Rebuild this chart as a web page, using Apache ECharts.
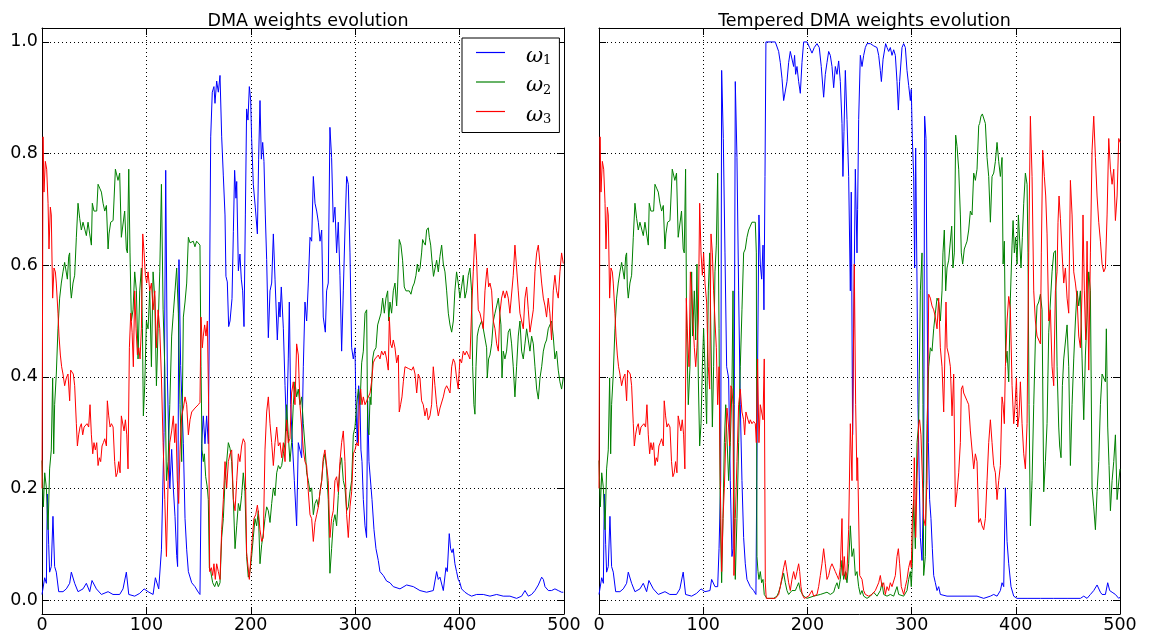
<!DOCTYPE html>
<html>
<head>
<meta charset="utf-8">
<script src="https://cdn.jsdelivr.net/npm/echarts@6/dist/echarts.min.js"></script>
<style>
html, body { margin: 0; padding: 0; background: #fff; }
#chart { width: 1150px; height: 639px; }
</style>
</head>
<body>
<div id="chart"></div>
<script>
// tick labels
const xTicks = [0, 100, 200, 300, 400, 500];
const yTicks = [0, 0.2, 0.4, 0.6, 0.8, 1.0];
const seriesNames = ['ω1', 'ω2', 'ω3'];

// first ~82 steps are the same in both panels
const earlyW1 = [[0,0.01],[2.6,0.04],[4.2,0.03],[5.1,0.19],[6.4,0.10],[7.3,0.05],[8.9,0.06],[10.5,0.15],[12.1,0.06],[13.7,0.05],[16,0.015],[20.1,0.015],[23.3,0.02],[26.5,0.03],[28.1,0.05],[31.3,0.03],[34.5,0.015],[39.3,0.02],[42.5,0.03],[45.7,0.015],[47.9,0.035],[52.1,0.02],[56.9,0.01],[63.3,0.015],[68,0.01],[74.4,0.01],[77.6,0.02],[80.8,0.05]];
const earlyW2 = [[0,0.25],[1.3,0.167],[2.6,0.228],[4.2,0.201],[5.8,0.126],[7.3,0.235],[8.9,0.269],[10.2,0.398],[11.2,0.262],[12.1,0.35],[13.7,0.405],[15.3,0.486],[16.9,0.541],[18.5,0.568],[20.1,0.588],[21.7,0.605],[23.3,0.602],[24.3,0.575],[25.6,0.616],[26.5,0.622],[27.2,0.561],[28.1,0.541],[29.7,0.568],[31.3,0.582],[32.9,0.65],[34.5,0.711],[36.1,0.684],[37.7,0.663],[39.3,0.677],[40.9,0.677],[42.5,0.653],[44.1,0.677],[45.7,0.656],[47.3,0.636],[48.2,0.711],[49.8,0.697],[51.1,0.70],[52.4,0.697],[53.7,0.745],[55.3,0.738],[56.9,0.731],[58.5,0.711],[60.1,0.697],[61.7,0.707],[63.3,0.629],[64.2,0.656],[65.8,0.677],[68.1,0.68],[70.3,0.772],[71.9,0.769],[72.8,0.752],[74.4,0.765],[76,0.65],[77.6,0.65],[79.2,0.697],[80.8,0.629],[81.8,0.622]];
const earlyW3 = [[0,0.2],[1,0.83],[1.9,0.731],[3.2,0.786],[4.5,0.772],[5.8,0.711],[6.7,0.629],[8,0.704],[8.9,0.69],[10.2,0.541],[11.5,0.595],[12.8,0.588],[13.7,0.568],[15.3,0.514],[16.3,0.473],[17.6,0.439],[18.8,0.418],[20.1,0.405],[21.7,0.384],[23.3,0.398],[24.9,0.405],[26.5,0.357],[27.5,0.412],[28.8,0.415],[30,0.405],[31.3,0.384],[32.9,0.316],[33.9,0.276],[35.1,0.296],[36.4,0.31],[37.7,0.316],[39,0.296],[40.3,0.31],[41.5,0.313],[43.1,0.316],[44.7,0.31],[46,0.35],[47.3,0.296],[48.6,0.262],[49.8,0.282],[51.1,0.269],[52.4,0.282],[53.7,0.241],[54.9,0.255],[56.2,0.248],[57.5,0.276],[58.8,0.282],[60.1,0.289],[61.7,0.276],[62.6,0.357],[63.9,0.33],[65.2,0.31],[66.5,0.316],[68.1,0.31],[69.6,0.248],[70.9,0.221],[72.2,0.228],[73.5,0.248],[74.8,0.228],[76,0.33],[77.3,0.33],[78.6,0.303],[79.9,0.323],[81.2,0.296],[82.4,0.235]];

// DMA (left panel), after step 82
const dmaW1Tail = [[83.1,0.01],[88.8,0.007],[93.6,0.012],[97.8,0.02],[101.6,0.015],[106.4,0.01],[108.6,0.04],[111.8,0.02],[114.4,0.09],[116.9,0.3],[118.5,0.77],[120.1,0.4],[122.4,0.2],[124.2,0.27],[125.8,0.2],[127.4,0.15],[129,0.08],[129.9,0.06],[131.2,0.61],[132.8,0.42],[135.4,0.28],[137,0.146],[138.6,0.09],[140.2,0.051],[143.4,0.031],[146.5,0.024],[149.7,0.014],[151.3,0.01],[152.9,0.28],[154.5,0.33],[156.1,0.28],[157.7,0.33],[159.3,0.28],[160.3,0.5],[161.6,0.83],[163.1,0.91],[164.7,0.92],[165.7,0.89],[167.3,0.93],[168.9,0.91],[170.5,0.94],[172.1,0.83],[173.7,0.76],[175.3,0.69],[176.2,0.58],[177.5,0.57],[178.8,0.49],[180.1,0.5],[182,0.54],[183.3,0.66],[184.5,0.77],[185.8,0.72],[186.5,0.75],[188.1,0.59],[189.6,0.62],[190.9,0.575],[192.2,0.554],[193.5,0.49],[194.8,0.69],[196,0.88],[197.3,0.86],[198.6,0.92],[199.9,0.895],[200.8,0.827],[202.4,0.745],[204.3,0.704],[206.3,0.656],[207.5,0.79],[208.8,0.895],[210.1,0.79],[211.4,0.82],[212.6,0.786],[213.9,0.69],[215.2,0.61],[216.8,0.47],[218.4,0.554],[220,0.568],[221.6,0.656],[223.2,0.575],[225.4,0.466],[227,0.534],[228,0.507],[229.2,0.561],[231.2,0.486],[232.8,0.384],[234.3,0.303],[235.9,0.432],[236.9,0.534],[238.2,0.35],[239.8,0.282],[241.7,0.214],[243.9,0.133],[245.5,0.282],[247.1,0.269],[248.7,0.255],[250.3,0.418],[251.9,0.534],[253.5,0.5],[255.1,0.568],[256.7,0.65],[258.3,0.643],[259.9,0.759],[261.5,0.711],[263.1,0.697],[264.7,0.677],[266.3,0.643],[267.9,0.663],[269.4,0.507],[271.4,0.48],[272.6,0.554],[274.2,0.568],[275.8,0.847],[277.4,0.793],[279,0.677],[280.6,0.704],[282.2,0.622],[283.8,0.677],[285.4,0.582],[287,0.446],[288.6,0.554],[290.2,0.663],[291.8,0.759],[293.4,0.745],[295,0.622],[296.6,0.452],[298.2,0.432],[299.8,0.452],[300.7,0.35],[302,0.282],[303.3,0.384],[304.6,0.35],[305.5,0.269],[306.5,0.248],[307.8,0.18],[309.4,0.133],[310.9,0.112],[311.9,0.357],[313.2,0.248],[314.8,0.248],[316.1,0.18],[318,0.126],[319.9,0.092],[322.1,0.071],[323.7,0.051],[326.9,0.044],[330.1,0.034],[333.3,0.031],[336.5,0.024],[342.9,0.02],[349.3,0.027],[355.7,0.024],[362,0.017],[368.4,0.014],[374.8,0.017],[378,0.051],[379.6,0.037],[381.2,0.041],[384.4,0.017],[386.9,0.058],[388.2,0.051],[390.1,0.119],[391.4,0.092],[392.7,0.085],[393.9,0.092],[395.5,0.065],[397.1,0.051],[398.7,0.037],[400.3,0.031],[401.9,0.02],[405.1,0.014],[408.3,0.01],[411.5,0.007],[416.3,0.01],[422.7,0.01],[429.1,0.007],[435.5,0.01],[441.8,0.007],[448.2,0.007],[454.6,0.003],[459.4,0.007],[462.6,0.017],[465.8,0.007],[469,0.01],[472.2,0.017],[475.4,0.027],[478.6,0.041],[480.2,0.037],[481.8,0.024],[485,0.017],[488.1,0.017],[491.3,0.02],[494.5,0.017],[497.7,0.014],[499.3,0.014]];
const dmaW2Tail = [[83.1,0.772],[84.3,0.622],[85.6,0.50],[87.2,0.52],[88.8,0.588],[90.4,0.554],[92,0.432],[93.6,0.554],[95.2,0.595],[96.2,0.486],[97.1,0.33],[98.4,0.384],[100,0.50],[101.6,0.486],[103.2,0.554],[104.8,0.418],[106.4,0.588],[108,0.541],[109.6,0.384],[111.2,0.486],[112.8,0.588],[114.4,0.745],[116,0.52],[117.6,0.418],[119.2,0.214],[120.8,0.248],[122.4,0.35],[124.2,0.473],[125.8,0.514],[127.4,0.554],[129,0.595],[130.6,0.514],[132.2,0.35],[133.8,0.248],[135.4,0.507],[137,0.534],[138.6,0.568],[140.2,0.65],[141.8,0.64],[143.4,0.64],[144.9,0.643],[146.5,0.633],[148.1,0.643],[149.7,0.64],[151.3,0.636],[152.3,0.418],[153.3,0.269],[154.5,0.248],[155.5,0.262],[156.8,0.221],[158.4,0.201],[159.3,0.18],[160.3,0.058],[161.6,0.051],[163.5,0.031],[165.4,0.024],[167.3,0.034],[168.9,0.024],[170.5,0.031],[172.1,0.112],[173.7,0.146],[175.3,0.214],[176.9,0.214],[178.5,0.282],[180.1,0.272],[181.7,0.248],[183.3,0.18],[184.9,0.092],[186.5,0.133],[188.1,0.173],[189.6,0.16],[191.2,0.187],[192.8,0.228],[194.4,0.194],[196,0.078],[197.6,0.041],[199.2,0.051],[200.8,0.078],[202.4,0.112],[204,0.146],[205.6,0.133],[207.2,0.16],[208.8,0.065],[210.4,0.099],[212,0.119],[213.6,0.146],[215.2,0.167],[216.8,0.16],[218.4,0.139],[220,0.173],[221.6,0.201],[223.2,0.187],[224.8,0.228],[226.4,0.241],[228,0.235],[229.6,0.241],[231.2,0.262],[232.8,0.282],[234.3,0.35],[235.9,0.296],[237.5,0.248],[239.1,0.282],[240.7,0.35],[242.3,0.391],[243.9,0.364],[245.5,0.378],[247.1,0.35],[248.7,0.364],[250.3,0.316],[251.9,0.276],[253.5,0.228],[255.1,0.214],[256.7,0.194],[258.3,0.201],[259.9,0.153],[261.5,0.173],[263.1,0.18],[264.7,0.167],[266.3,0.194],[267.9,0.214],[269.4,0.248],[271,0.262],[272.6,0.235],[274.2,0.18],[275.8,0.048],[277.4,0.092],[279,0.139],[280.6,0.153],[282.2,0.133],[283.8,0.187],[285.4,0.241],[287,0.255],[288.6,0.214],[290.2,0.201],[291.8,0.16],[293.4,0.167],[295,0.194],[296.6,0.214],[298.2,0.296],[299.8,0.31],[301.4,0.35],[303,0.378],[304.6,0.35],[306.2,0.425],[307.8,0.446],[309.4,0.514],[311,0.52],[311.9,0.31],[313.2,0.296],[314.2,0.364],[315.1,0.35],[316.7,0.432],[318,0.446],[319.9,0.452],[321.5,0.493],[323.1,0.493],[324.7,0.514],[326.3,0.541],[327.9,0.514],[329.5,0.541],[331.1,0.554],[332.1,0.50],[333.3,0.534],[334.9,0.514],[336.5,0.554],[338.1,0.568],[339.7,0.527],[340.6,0.561],[342.2,0.646],[343.8,0.636],[345.4,0.609],[347,0.561],[348.6,0.554],[350.2,0.551],[351.8,0.554],[353.4,0.548],[355,0.561],[356.6,0.568],[358.2,0.582],[359.5,0.602],[360.8,0.588],[362.1,0.595],[363.6,0.622],[364.6,0.646],[365.9,0.64],[367.2,0.636],[368.4,0.663],[370,0.667],[371,0.65],[372.3,0.636],[373.5,0.609],[375,0.58],[376.4,0.582],[378,0.609],[379.6,0.588],[381.2,0.616],[382.8,0.636],[384.4,0.602],[386,0.588],[387.6,0.554],[389.2,0.514],[390.8,0.493],[392.4,0.48],[394,0.50],[395.5,0.554],[397.1,0.588],[398.7,0.568],[400.3,0.541],[401.9,0.561],[403.5,0.582],[405.1,0.541],[406.7,0.554],[408.3,0.582],[409.9,0.595],[411.5,0.554],[412.5,0.418],[413.7,0.35],[414.7,0.333],[415.7,0.418],[416.9,0.473],[418.2,0.486],[419.5,0.493],[421.1,0.50],[422.7,0.486],[424.3,0.486],[425.9,0.452],[426.5,0.398],[427.8,0.432],[429.1,0.439],[430.7,0.459],[432.3,0.50],[433.9,0.514],[435.5,0.527],[437.1,0.541],[438.6,0.541],[439.6,0.493],[440.6,0.398],[441.8,0.446],[443.4,0.432],[445,0.446],[446.6,0.48],[448.2,0.486],[449.8,0.459],[451.4,0.418],[453,0.364],[454.6,0.418],[456.2,0.473],[457.8,0.50],[459.4,0.446],[461,0.432],[462.6,0.459],[464.2,0.486],[465.8,0.466],[467.4,0.446],[469,0.473],[470.6,0.459],[472.2,0.418],[473.8,0.378],[475.4,0.36],[477,0.398],[478.6,0.418],[480.2,0.446],[481.8,0.459],[483.3,0.466],[484.9,0.486],[486.5,0.493],[488.1,0.50],[489.7,0.473],[491.3,0.432],[492.9,0.446],[494.5,0.412],[496.1,0.391],[497.7,0.378],[499.3,0.398]];
const dmaW3Tail = [[83.7,0.452],[85,0.514],[86.3,0.48],[87.5,0.418],[88.8,0.554],[90.1,0.486],[91.4,0.439],[92.7,0.452],[93.9,0.432],[95.2,0.486],[96.5,0.656],[97.8,0.622],[99,0.582],[100.3,0.568],[101.6,0.588],[103.2,0.554],[104.8,0.568],[106.4,0.52],[108,0.554],[109.6,0.452],[111.2,0.52],[112.8,0.486],[114.4,0.398],[116,0.282],[117.6,0.18],[119.2,0.078],[120.8,0.214],[122.4,0.282],[124.2,0.303],[125.8,0.33],[127.1,0.282],[128.3,0.316],[129.6,0.214],[130.9,0.173],[132.2,0.269],[133.8,0.33],[135.4,0.344],[137,0.364],[138.6,0.35],[140.2,0.296],[141.8,0.323],[143.4,0.337],[144.9,0.337],[146.5,0.344],[148.1,0.344],[149.7,0.35],[151.3,0.354],[152.3,0.507],[153.6,0.452],[154.5,0.473],[155.8,0.493],[157.1,0.473],[158.4,0.50],[159.6,0.35],[160.6,0.051],[162.2,0.058],[163.5,0.044],[164.7,0.065],[166,0.037],[167.3,0.065],[168.9,0.051],[170.5,0.037],[172.1,0.126],[173.7,0.18],[175.3,0.248],[176.9,0.201],[178.5,0.248],[180.1,0.262],[181.7,0.269],[183.3,0.18],[184.9,0.16],[186.5,0.214],[188.1,0.262],[189.6,0.248],[191.2,0.276],[192.8,0.289],[194.4,0.282],[196,0.085],[197.6,0.085],[198.6,0.037],[199.9,0.071],[201.5,0.112],[203,0.146],[204.7,0.153],[206.3,0.17],[207.5,0.153],[208.8,0.126],[210.4,0.105],[212,0.112],[213.6,0.269],[215.2,0.337],[216.8,0.364],[218.4,0.316],[220,0.282],[221.6,0.241],[223.2,0.282],[224.8,0.31],[226.4,0.276],[228,0.282],[229.6,0.255],[231.2,0.282],[232.8,0.248],[234.3,0.323],[235.9,0.282],[237.5,0.289],[239.1,0.371],[240.7,0.391],[242.3,0.35],[243.9,0.459],[245.5,0.439],[247.1,0.35],[248.7,0.35],[250.3,0.269],[251.9,0.248],[253.5,0.241],[255.1,0.194],[256.7,0.153],[258.3,0.146],[259.9,0.105],[261.5,0.139],[263.1,0.153],[264.7,0.167],[266.3,0.194],[267.9,0.214],[269.4,0.255],[271,0.269],[272.6,0.241],[274.2,0.214],[275.8,0.112],[277.4,0.146],[279,0.16],[280.6,0.214],[282.2,0.221],[283.8,0.194],[285.4,0.248],[287,0.282],[288.6,0.303],[290.2,0.248],[291.8,0.153],[293.4,0.112],[295,0.167],[296.6,0.194],[298.2,0.262],[299.8,0.269],[301.4,0.282],[303,0.276],[303.9,0.35],[305.2,0.378],[306.5,0.35],[307.8,0.364],[309.4,0.35],[311,0.357],[312.6,0.364],[314.2,0.371],[315.7,0.391],[317.3,0.425],[318.9,0.432],[320.5,0.432],[322.1,0.439],[323.7,0.432],[325.3,0.446],[326.9,0.439],[328.5,0.446],[330.1,0.432],[331.7,0.412],[332.7,0.507],[333.9,0.459],[335.2,0.452],[336.5,0.466],[338.1,0.452],[339.7,0.425],[341.3,0.439],[342.2,0.337],[343.5,0.35],[344.8,0.364],[346.1,0.391],[347.7,0.418],[349.3,0.418],[350.9,0.415],[352.5,0.418],[354.1,0.412],[355.7,0.418],[357.3,0.405],[358.9,0.371],[360.4,0.405],[362,0.398],[363.6,0.357],[365.2,0.35],[366.8,0.33],[368.4,0.344],[370,0.323],[371.6,0.33],[373.2,0.35],[374.8,0.418],[376.4,0.384],[378,0.35],[379.6,0.33],[381.2,0.344],[382.8,0.344],[384.4,0.364],[386,0.378],[387.6,0.384],[389.2,0.378],[390.8,0.371],[392.4,0.418],[394,0.432],[395.5,0.425],[397.1,0.398],[398.7,0.378],[400.3,0.432],[401.9,0.425],[403.5,0.446],[405.1,0.439],[406.7,0.446],[408.3,0.439],[409.9,0.432],[411.5,0.52],[413.1,0.588],[414.7,0.656],[416.3,0.609],[417.9,0.52],[419.5,0.514],[421.1,0.50],[422.7,0.486],[424.3,0.554],[425.9,0.588],[426.5,0.595],[427.8,0.561],[429.1,0.568],[430.7,0.554],[432.3,0.50],[433.9,0.486],[435.5,0.459],[437.1,0.446],[438.6,0.514],[440.2,0.541],[441.8,0.554],[443.4,0.541],[445,0.554],[446.6,0.541],[448.2,0.514],[449.8,0.514],[451.4,0.582],[453,0.636],[454.6,0.595],[456.2,0.554],[457.8,0.514],[459.4,0.50],[461,0.486],[462.6,0.541],[464.2,0.561],[465.8,0.52],[467.4,0.48],[469,0.50],[470.6,0.52],[472.2,0.588],[473.8,0.622],[475.4,0.636],[477,0.602],[478.6,0.568],[480.2,0.541],[481.8,0.527],[483.3,0.507],[484.9,0.541],[486.5,0.514],[488.1,0.466],[489.7,0.554],[491.3,0.582],[492.9,0.554],[494.5,0.541],[496.1,0.588],[497.7,0.622],[499.3,0.603]];

// Tempered DMA (right panel), after step 82
const tdmaW1Tail = [[83.1,0.01],[88.9,0.007],[93.7,0.012],[97.9,0.02],[101.7,0.015],[106.5,0.017],[108.1,0.037],[111.3,0.024],[113.9,0.024],[115.2,0.092],[116.8,0.214],[117.7,0.949],[119.3,0.827],[120.9,0.622],[122.5,0.418],[124.4,0.398],[126,0.214],[127.6,0.078],[128.6,0.092],[129.8,0.35],[130.8,0.929],[132.4,0.793],[134,0.554],[135.6,0.35],[137.2,0.214],[138.8,0.112],[140.4,0.065],[142,0.037],[145.2,0.024],[148.4,0.017],[150.6,0.01],[152.2,0.418],[153.5,0.69],[154.8,0.602],[156.1,0.575],[157.4,0.636],[158.3,0.52],[159.3,0.759],[160.2,1.0],[166,1.0],[169.2,1.0],[170.8,0.997],[172.4,0.983],[174,0.963],[175.6,0.935],[177.2,0.895],[178.8,0.895],[180.4,0.929],[182,0.963],[183.6,0.983],[185.2,0.98],[186.8,0.956],[187.7,0.976],[188.7,0.942],[190,0.956],[191.6,0.929],[193.2,0.908],[194.8,0.963],[196.4,1.0],[199.6,1.0],[202.1,0.99],[204.4,0.98],[206.6,0.99],[209.2,0.997],[211.4,0.99],[213.3,0.956],[215.6,0.901],[217.2,0.942],[218.8,0.963],[220.4,0.983],[222,0.976],[223.6,0.956],[225.2,0.918],[226.8,0.956],[228.4,0.942],[230,0.966],[231.6,0.929],[233.2,0.854],[234.1,0.759],[235.1,0.84],[236.4,0.949],[238,0.861],[239.6,0.759],[241.2,0.554],[242.1,0.731],[243.4,0.296],[244.4,0.486],[246,0.772],[247.6,0.622],[248.2,0.7],[249.2,0.861],[250.8,0.976],[252.4,0.956],[254,0.976],[255.6,0.99],[257.2,0.997],[260.4,0.997],[263.6,0.993],[266.8,0.99],[268.4,0.976],[270,0.949],[271,0.929],[272.6,0.969],[273.8,0.966],[275.1,0.997],[276.4,0.99],[278,0.983],[279.6,0.99],[281.2,0.976],[282.8,0.986],[284.4,0.976],[286,0.929],[287.3,0.878],[288.5,0.929],[290.8,0.99],[292.4,0.997],[294,0.99],[295.6,0.949],[297.2,0.922],[298.8,0.895],[299.7,0.915],[300.7,0.827],[302,0.759],[302.9,0.595],[303.9,0.81],[305.2,0.568],[306.1,0.35],[307.4,0.214],[308.4,0.112],[310,0.071],[311.6,0.214],[312.5,0.867],[313.8,0.827],[314.8,0.554],[316.1,0.282],[317.3,0.18],[318.6,0.146],[319.9,0.092],[321.2,0.044],[322.8,0.031],[324.4,0.017],[326,0.024],[327.6,0.01],[334,0.007],[343.6,0.007],[353.2,0.007],[362.8,0.007],[369.2,0.003],[375.6,0.007],[378.8,0.01],[382,0.007],[385.2,0.017],[386.8,0.031],[388.4,0.024],[390,0.201],[391.6,0.105],[393.2,0.065],[394.2,0.065],[395.4,0.024],[398,0.007],[401.2,0.003],[410.8,0.003],[423.6,0.003],[436.4,0.003],[449.2,0.003],[462,0.003],[465.2,0.007],[468.4,0.003],[471.6,0.01],[474.8,0.017],[478,0.027],[479.6,0.024],[481.2,0.014],[482.8,0.01],[486,0.01],[488.2,0.031],[490.1,0.017],[492.4,0.014],[495.6,0.01],[498.8,0.003],[500,0.005]];
const tdmaW2Tail = [[83.1,0.772],[84.1,0.486],[85.7,0.35],[87.3,0.418],[88.9,0.588],[89.9,0.473],[91.5,0.554],[92.8,0.466],[94,0.602],[95.3,0.398],[96.6,0.276],[97.9,0.316],[99.2,0.418],[100.4,0.486],[101.7,0.418],[103.3,0.316],[104.9,0.554],[106.2,0.622],[107.5,0.466],[108.8,0.31],[110,0.418],[111.3,0.588],[112.6,0.636],[113.9,0.765],[115.2,0.486],[116.4,0.146],[117.7,0.031],[119,0.146],[120.3,0.282],[121.6,0.35],[122.8,0.35],[124.4,0.214],[126,0.282],[127.6,0.384],[128.6,0.554],[129.8,0.146],[130.8,0.037],[132.4,0.146],[134,0.282],[135.6,0.418],[137.2,0.52],[138.8,0.622],[140.4,0.629],[142,0.65],[143.6,0.663],[145.2,0.67],[146.8,0.677],[148.4,0.68],[150,0.677],[151,0.622],[151.6,0.078],[152.6,0.051],[153.5,0.037],[154.8,0.051],[156.1,0.031],[157.4,0.037],[158.6,0.01],[161.2,0.003],[167.6,0.003],[170.8,0.007],[172.4,0.014],[174,0.024],[175.6,0.037],[177.2,0.048],[178.8,0.031],[180.4,0.017],[182,0.01],[185.2,0.017],[188.4,0.017],[190,0.024],[191.6,0.031],[193.2,0.017],[196.4,0.007],[199.6,0.003],[206,0.007],[212.4,0.01],[218.8,0.014],[222,0.01],[225.2,0.014],[226.8,0.024],[228.4,0.031],[230,0.02],[231.6,0.037],[233.2,0.071],[234.8,0.037],[236.4,0.051],[238,0.031],[239.6,0.065],[241.2,0.133],[242.8,0.078],[244.4,0.092],[246,0.044],[247.6,0.051],[249.2,0.024],[250.8,0.01],[252.4,0.017],[254,0.007],[257.2,0.003],[260.4,0.007],[263.6,0.014],[266.8,0.007],[270,0.017],[271.6,0.031],[273.2,0.01],[276.4,0.007],[279.6,0.01],[282.8,0.007],[286,0.024],[287.6,0.01],[289.2,0.007],[292.4,0.007],[295.6,0.017],[297.2,0.037],[298.8,0.051],[299.7,0.024],[300.7,0.065],[302,0.18],[303.6,0.092],[305.2,0.282],[306.8,0.316],[308.4,0.554],[310,0.622],[310.9,0.35],[311.6,0.044],[313.2,0.078],[314.8,0.316],[316.4,0.418],[318,0.452],[319.6,0.446],[321.2,0.486],[322.8,0.514],[324.4,0.541],[326,0.534],[327.6,0.50],[329.2,0.554],[330.1,0.622],[331.4,0.663],[332.7,0.554],[334,0.595],[335.6,0.609],[337.2,0.609],[338.5,0.67],[339.7,0.595],[341,0.622],[342.3,0.833],[343.6,0.813],[345.2,0.772],[346.8,0.69],[347.7,0.622],[349,0.602],[350.6,0.629],[351.9,0.636],[353.2,0.643],[354.8,0.663],[356.4,0.697],[358,0.69],[359.6,0.765],[361.2,0.752],[362.8,0.772],[364.4,0.85],[365.3,0.854],[366.6,0.867],[367.9,0.871],[369.2,0.874],[370.8,0.854],[372.4,0.793],[374,0.759],[375.6,0.677],[377.2,0.759],[378.8,0.765],[380.4,0.786],[382,0.82],[383.6,0.786],[385.2,0.759],[386.8,0.793],[387.8,0.602],[389,0.643],[390.3,0.425],[391.6,0.446],[393.2,0.391],[394.8,0.541],[396.4,0.636],[397.4,0.68],[398.6,0.622],[399.9,0.65],[401.2,0.602],[402.5,0.69],[403.8,0.69],[405,0.595],[406.3,0.65],[407.6,0.711],[409.2,0.765],[410.8,0.745],[411.7,0.622],[412.7,0.35],[414,0.133],[415.6,0.214],[417.2,0.35],[418.8,0.466],[420.4,0.527],[422,0.534],[423.6,0.548],[425.2,0.52],[426.8,0.194],[428.4,0.248],[430,0.316],[431.6,0.48],[433.2,0.48],[434.8,0.588],[436.4,0.622],[438,0.626],[439.6,0.418],[441.2,0.31],[442.1,0.276],[443.4,0.255],[444.7,0.384],[446,0.432],[447.6,0.432],[449.2,0.493],[450.8,0.418],[452.4,0.241],[454,0.35],[455.6,0.432],[457.2,0.50],[458.8,0.554],[460.4,0.527],[462,0.554],[463.6,0.432],[465.2,0.323],[466.8,0.439],[468.4,0.507],[470,0.588],[471.6,0.554],[473.2,0.201],[474.8,0.167],[476.4,0.126],[478,0.194],[479.6,0.248],[481.2,0.35],[482.8,0.405],[484.4,0.398],[486,0.391],[486.9,0.486],[488.2,0.31],[489.5,0.241],[490.8,0.16],[492.4,0.214],[494,0.248],[495.6,0.296],[497.2,0.18],[498.8,0.18],[500,0.235]];
const tdmaW3Tail = [[83.8,0.541],[85.1,0.466],[86.4,0.418],[87.7,0.588],[88.9,0.554],[90.2,0.50],[91.5,0.452],[92.8,0.418],[94,0.452],[95.3,0.50],[96.6,0.711],[97.9,0.622],[99.2,0.582],[100.4,0.622],[101.7,0.568],[103.3,0.534],[104.9,0.418],[106.2,0.378],[107.5,0.656],[108.8,0.622],[110,0.554],[111.3,0.50],[112.6,0.452],[113.9,0.35],[115.2,0.418],[116.4,0.214],[117.7,0.051],[119,0.146],[120.3,0.201],[121.6,0.282],[122.8,0.344],[124.4,0.31],[125.4,0.276],[126.6,0.384],[127.6,0.378],[128.6,0.35],[129.5,0.044],[130.8,0.146],[132.4,0.248],[134,0.35],[135.6,0.378],[137.2,0.337],[138.8,0.323],[139.8,0.296],[141,0.337],[142,0.33],[143,0.323],[144.2,0.316],[145.2,0.323],[146.8,0.316],[148.4,0.32],[150,0.316],[151,0.282],[152.2,0.432],[153.5,0.282],[154.8,0.35],[156.1,0.337],[157.4,0.323],[158.6,0.432],[159.6,0.031],[160.5,0.003],[164.4,0.003],[169.2,0.003],[172.4,0.01],[174,0.024],[175.6,0.041],[177.2,0.058],[178.8,0.071],[180.4,0.051],[182,0.031],[183.6,0.017],[185.2,0.037],[186.8,0.051],[188.4,0.037],[190,0.051],[191.6,0.065],[192.6,0.051],[193.8,0.024],[195.1,0.01],[197,0.003],[201.2,0.007],[204.4,0.017],[206,0.007],[209.2,0.01],[210.8,0.024],[212.4,0.044],[214,0.065],[215.6,0.092],[217.2,0.065],[218.8,0.037],[220.4,0.044],[222,0.058],[223.6,0.065],[225.2,0.065],[226.8,0.051],[228.4,0.044],[230,0.037],[231.6,0.058],[233.2,0.146],[234.1,0.044],[235.4,0.078],[236.6,0.037],[238,0.051],[239.6,0.126],[241.2,0.316],[242.8,0.214],[243.7,0.364],[245,0.602],[246.3,0.35],[247.6,0.214],[248.2,0.255],[250.2,0.044],[252.4,0.037],[254,0.017],[255.6,0.01],[258.8,0.007],[262,0.01],[265.2,0.017],[268.4,0.031],[270,0.044],[271.6,0.024],[273.2,0.031],[274.8,0.01],[276.4,0.024],[278,0.017],[279.6,0.031],[281.2,0.024],[282.8,0.024],[284.4,0.044],[286,0.078],[287.3,0.092],[288.5,0.065],[290.1,0.024],[292.4,0.01],[294,0.024],[295.6,0.037],[297.2,0.058],[298.8,0.071],[299.7,0.058],[300.7,0.146],[302,0.18],[302.6,0.255],[303.9,0.112],[305.2,0.214],[306.8,0.316],[307.7,0.323],[309,0.296],[310.3,0.296],[311.6,0.146],[313.2,0.133],[314.8,0.214],[316.4,0.548],[318,0.541],[319.6,0.527],[321.2,0.52],[322.8,0.507],[324.4,0.486],[326,0.541],[327.6,0.452],[329.2,0.418],[330.8,0.337],[331.7,0.337],[333,0.534],[334,0.452],[335.6,0.439],[337.2,0.418],[338.8,0.33],[340.4,0.405],[342,0.167],[343.6,0.194],[345.2,0.228],[346.8,0.282],[347.7,0.378],[349,0.384],[350,0.371],[351.6,0.371],[353.2,0.357],[354.8,0.35],[356.4,0.303],[358,0.303],[359.6,0.235],[361.2,0.262],[362.8,0.248],[364.4,0.139],[366,0.146],[367.6,0.133],[369.2,0.126],[370.8,0.146],[372.4,0.214],[374,0.282],[375.6,0.323],[377.2,0.282],[378.8,0.241],[380.4,0.228],[382,0.18],[383.6,0.214],[385.2,0.241],[386.8,0.364],[387.8,0.35],[389,0.316],[390,0.418],[391.6,0.50],[393.2,0.544],[394.8,0.52],[396.4,0.384],[398,0.316],[399.3,0.35],[400.6,0.398],[401.8,0.31],[403.1,0.33],[404.4,0.391],[406,0.316],[407.6,0.262],[409.2,0.235],[410.8,0.316],[412.4,0.622],[414,0.867],[415.6,0.759],[417.2,0.554],[418.8,0.50],[420.4,0.473],[422,0.473],[423.6,0.459],[424.5,0.622],[425.8,0.806],[427.4,0.759],[428.7,0.724],[430,0.656],[431.6,0.50],[433.2,0.52],[434.8,0.418],[436.4,0.384],[438,0.554],[439.6,0.588],[440.5,0.677],[441.5,0.724],[442.8,0.684],[444.4,0.622],[446,0.568],[447.6,0.595],[449.2,0.541],[450.8,0.514],[452.4,0.752],[454,0.69],[455.6,0.588],[457.2,0.568],[458.8,0.541],[460.4,0.473],[462,0.452],[463.6,0.554],[464.5,0.69],[465.8,0.554],[467.1,0.466],[468.4,0.643],[470,0.412],[471.6,0.622],[473.2,0.806],[474.8,0.867],[476.4,0.793],[478,0.724],[479.6,0.677],[481.2,0.643],[482.8,0.602],[484.4,0.588],[486,0.595],[487.6,0.69],[489.2,0.827],[490.8,0.772],[492.4,0.745],[494,0.772],[495.6,0.68],[497.2,0.724],[498.8,0.827],[500,0.82]];

const dmaW1 = earlyW1.concat(dmaW1Tail);
const dmaW2 = earlyW2.concat(dmaW2Tail);
const dmaW3 = earlyW3.concat(dmaW3Tail);
const tdmaW1 = earlyW1.concat(tdmaW1Tail);
const tdmaW2 = earlyW2.concat(tdmaW2Tail);
const tdmaW3 = earlyW3.concat(tdmaW3Tail);

const colors = ['#0000ff', '#008000', '#ff0000'];
const font = 'DejaVu Sans';

var chart = echarts.init(document.getElementById('chart'));

function gridLine() {
    return { show: true, lineStyle: { color: '#000', width: 1, type: [1, 3] } };
}

function xAxes(gi) {
    var base = {
        type: 'value', gridIndex: gi, min: 0, max: 500, interval: 100,
        axisLine: { onZero: false, lineStyle: { color: '#000', width: 1 } },
        axisTick: { inside: true, length: 7, lineStyle: { color: '#000' } }
    };
    return [
        Object.assign({}, base, {
            position: 'bottom',
            axisLabel: { fontFamily: font, fontSize: 17.5, color: '#000', margin: 2 },
            splitLine: gridLine()
        }),
        Object.assign({}, base, {
            position: 'top',
            axisLabel: { show: false },
            splitLine: { show: false }
        })
    ];
}

function yAxes(gi, labels) {
    var base = {
        type: 'value', gridIndex: gi, min: -0.025, max: 1.025, splitNumber: 5,
        axisLine: { onZero: false, lineStyle: { color: '#000', width: 1 } },
        axisTick: { inside: true, length: 7, customValues: yTicks, lineStyle: { color: '#000' } }
    };
    return [
        Object.assign({}, base, {
            position: 'left',
            axisLabel: {
                show: labels, customValues: yTicks, fontFamily: font, fontSize: 17.5, color: '#000', margin: 4,
                formatter: function (v) { return v.toFixed(1); }
            },
            splitLine: gridLine()
        }),
        Object.assign({}, base, {
            position: 'right',
            axisLabel: { show: false },
            splitLine: { show: false }
        })
    ];
}

function makeSeries(gi, list) {
    return list.map(function (d, i) {
        return {
            name: seriesNames[i], type: 'line', data: d,
            xAxisIndex: gi * 2, yAxisIndex: gi * 2,
            symbol: 'none', showSymbol: false,
            lineStyle: { color: colors[i], width: 1 },
            itemStyle: { color: colors[i] },
            animation: false
        };
    });
}

chart.setOption({
    backgroundColor: '#fff',
    animation: false,
    title: [
        { text: 'DMA weights evolution', left: 303, top: 7, textAlign: 'center',
          textStyle: { fontFamily: font, fontSize: 17.5, fontWeight: 'normal', color: '#000' } },
        { text: 'Tempered DMA weights evolution', left: 859.5, top: 7, textAlign: 'center',
          textStyle: { fontFamily: font, fontSize: 17.5, fontWeight: 'normal', color: '#000' } }
    ],
    grid: [
        { left: 42, top: 28, width: 522, height: 586 },
        { left: 599, top: 28, width: 521, height: 586 }
    ],
    legend: {
        data: seriesNames,
        orient: 'vertical',
        left: 462, top: 38,
        padding: [8, 8, 6, 14],
        itemGap: 8,
        itemWidth: 29, itemHeight: 1.2,
        icon: 'rect',
        backgroundColor: '#fff',
        borderColor: '#000', borderWidth: 1, borderRadius: 0,
        selectedMode: false,
        formatter: function (name) { return '{w|ω}{s|' + name.slice(1) + '}'; },
        textStyle: {
            color: '#000',
            padding: [8, 0, 0, 0],
            rich: {
                w: { fontFamily: 'DejaVu Serif', fontStyle: 'italic', fontSize: 21, lineHeight: 22, padding: [0, 0, 0, 16] },
                s: { fontFamily: 'DejaVu Serif', fontSize: 13, lineHeight: 12, verticalAlign: 'bottom' }
            }
        }
    },
    xAxis: xAxes(0).concat(xAxes(1)),
    yAxis: yAxes(0, true).concat(yAxes(1, false)),
    series: makeSeries(0, [dmaW1, dmaW2, dmaW3]).concat(makeSeries(1, [tdmaW1, tdmaW2, tdmaW3]))
});
</script>
</body>
</html>
